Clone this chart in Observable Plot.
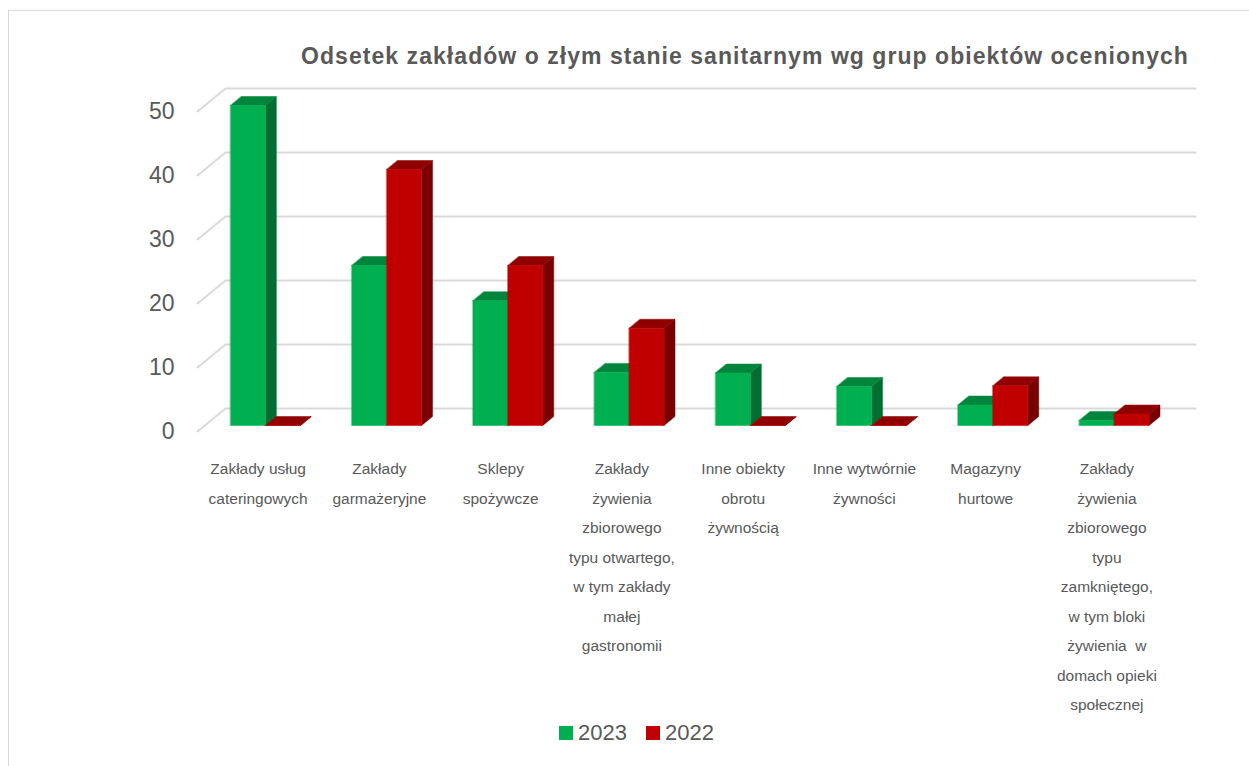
<!DOCTYPE html>
<html>
<head>
<meta charset="utf-8">
<script src="https://cdn.jsdelivr.net/npm/d3@7"></script>
<script src="https://cdn.jsdelivr.net/npm/@observablehq/plot@0.6"></script>
<style>
  html, body { margin: 0; padding: 0; background: #fff; }
  body { width: 1249px; height: 766px; position: relative; overflow: hidden; font-family: "Liberation Sans", Arial, sans-serif; }
  #frame { position: absolute; left: 8px; top: 10px; width: 1300px; height: 800px; border: 1px solid #d9d9d9; box-sizing: border-box; }
  #title { position: absolute; left: 200px; width: 1090px; top: 42px; text-align: center; font-size: 23px; letter-spacing: 1.05px; font-weight: bold; color: #595959; line-height: 28px; }
  #chart { position: absolute; left: 0; top: 80px; }
  #legend { position: absolute; left: 559px; top: 720px; display: flex; align-items: center; font-size: 22px; color: #595959; line-height: 26px; }
  #legend .sw { width: 14px; height: 14px; display: inline-block; margin-right: 5px; }
  #legend .item { display: flex; align-items: center; margin-right: 19px; }
</style>
</head>
<body>
<div id="frame"></div>
<div id="title">Odsetek zakładów o złym stanie sanitarnym wg grup obiektów ocenionych</div>
<div id="chart"></div>
<div id="legend"></div>
<script>
const categories = [
  "Zakłady usług cateringowych",
  "Zakłady garmażeryjne",
  "Sklepy spożywcze",
  "Zakłady żywienia zbiorowego typu otwartego, w tym zakłady małej gastronomii",
  "Inne obiekty obrotu żywnością",
  "Inne wytwórnie żywności",
  "Magazyny hurtowe",
  "Zakłady żywienia zbiorowego typu zamkniętego, w tym bloki żywienia  w domach opieki społecznej"
];
const tickLabels = [
  "Zakłady usług\ncateringowych",
  "Zakłady\ngarmażeryjne",
  "Sklepy\nspożywcze",
  "Zakłady\nżywienia\nzbiorowego\ntypu otwartego,\nw tym zakłady\nmałej\ngastronomii",
  "Inne obiekty\nobrotu\nżywnością",
  "Inne wytwórnie\nżywności",
  "Magazyny\nhurtowe",
  "Zakłady\nżywienia\nzbiorowego\ntypu\nzamkniętego,\nw tym bloki\nżywienia  w\ndomach opieki\nspołecznej"
];
const seriesNames = ["2023", "2022"];
const values2023 = [50, 25, 19.5, 8.3, 8.2, 6.1, 3.2, 0.8];
const values2022 = [0, 40, 25, 15.2, 0, 0, 6.2, 1.8];
const yTicks = [0, 10, 20, 30, 40, 50];

const colors = {
  "2023": {front: "#00B050", top: "#00863C", side: "#006E31"},
  "2022": {front: "#C00000", top: "#900000", side: "#780000"}
};

// 3D projection parameters (in data units: x = category bands, y = value units)
const DX = 0.231, DY = 3.6;      // full depth offset of the floor/back wall
const T0 = 0.26, T1 = 0.65;      // bar front/back depth fractions
const BW = 0.288;                // bar width in band units

const series = [values2023, values2022];
const faces = {front: [], top: [], side: []};
categories.forEach((c, i) => {
  series.forEach((vals, s) => {
    const v = vals[i];
    const name = seriesNames[s];
    const x0 = i + 0.5 - BW + s * BW, x1 = x0 + BW;
    const ox0 = DX * T0, oy0 = DY * T0, ox1 = DX * T1, oy1 = DY * T1;
    const id = `${i}-${s}`;
    const push = (face, pts) => pts.forEach(([x, y]) => faces[face].push({id, name, x, y}));
    push("side", [[x1 + ox0, oy0], [x1 + ox1, oy1], [x1 + ox1, v + oy1], [x1 + ox0, v + oy0]]);
    push("top", [[x0 + ox0, v + oy0], [x1 + ox0, v + oy0], [x1 + ox1, v + oy1], [x0 + ox1, v + oy1]]);
    push("front", [[x0 + ox0, oy0], [x1 + ox0, oy0], [x1 + ox0, v + oy0], [x0 + ox0, v + oy0]]);
  });
});

const grid = [];
yTicks.forEach(t => {
  grid.push({t, x: 0, y: t});
  grid.push({t, x: DX, y: t + DY});
  grid.push({t, x: categories.length + DX, y: t + DY});
});

const marks = [
  Plot.line(grid, {x: "x", y: "y", z: "t", stroke: "#d9d9d9", strokeWidth: 2})
];
seriesNames.forEach(name => {
  for (const face of ["side", "top", "front"]) {
    marks.push(Plot.line(faces[face].filter(d => d.name === name), {
      x: "x", y: "y", z: "id", curve: "linear-closed",
      fill: colors[name][face], stroke: colors[name][face], strokeWidth: 0.5
    }));
  }
});
marks.push(Plot.axisY({ticks: yTicks, tickSize: 0, tickPadding: 23, fontSize: 23, fill: "#595959", label: null}));
marks.push(Plot.text(categories, {
  x: (d, i) => i + 0.5, y: () => 0, text: (d, i) => tickLabels[i],
  lineAnchor: "top", dy: 22, lineHeight: 1.9, fontSize: 15.5, fill: "#595959"
}));

const chart = Plot.plot({
  width: 1249, height: 640,
  marginLeft: 197, marginRight: 82, marginTop: 31, marginBottom: 289,
  x: {domain: [0, categories.length], axis: null},
  y: {domain: [0, 50], axis: null},
  style: {fontFamily: "'Liberation Sans', Arial, sans-serif", color: "#595959", background: "transparent", overflow: "visible"},
  marks
});
document.getElementById("chart").appendChild(chart);

const legend = document.getElementById("legend");
seriesNames.forEach(name => {
  const item = document.createElement("div");
  item.className = "item";
  const sw = document.createElement("span");
  sw.className = "sw";
  sw.style.background = colors[name].front;
  item.appendChild(sw);
  item.appendChild(document.createTextNode(name));
  legend.appendChild(item);
});
</script>
</body>
</html>
